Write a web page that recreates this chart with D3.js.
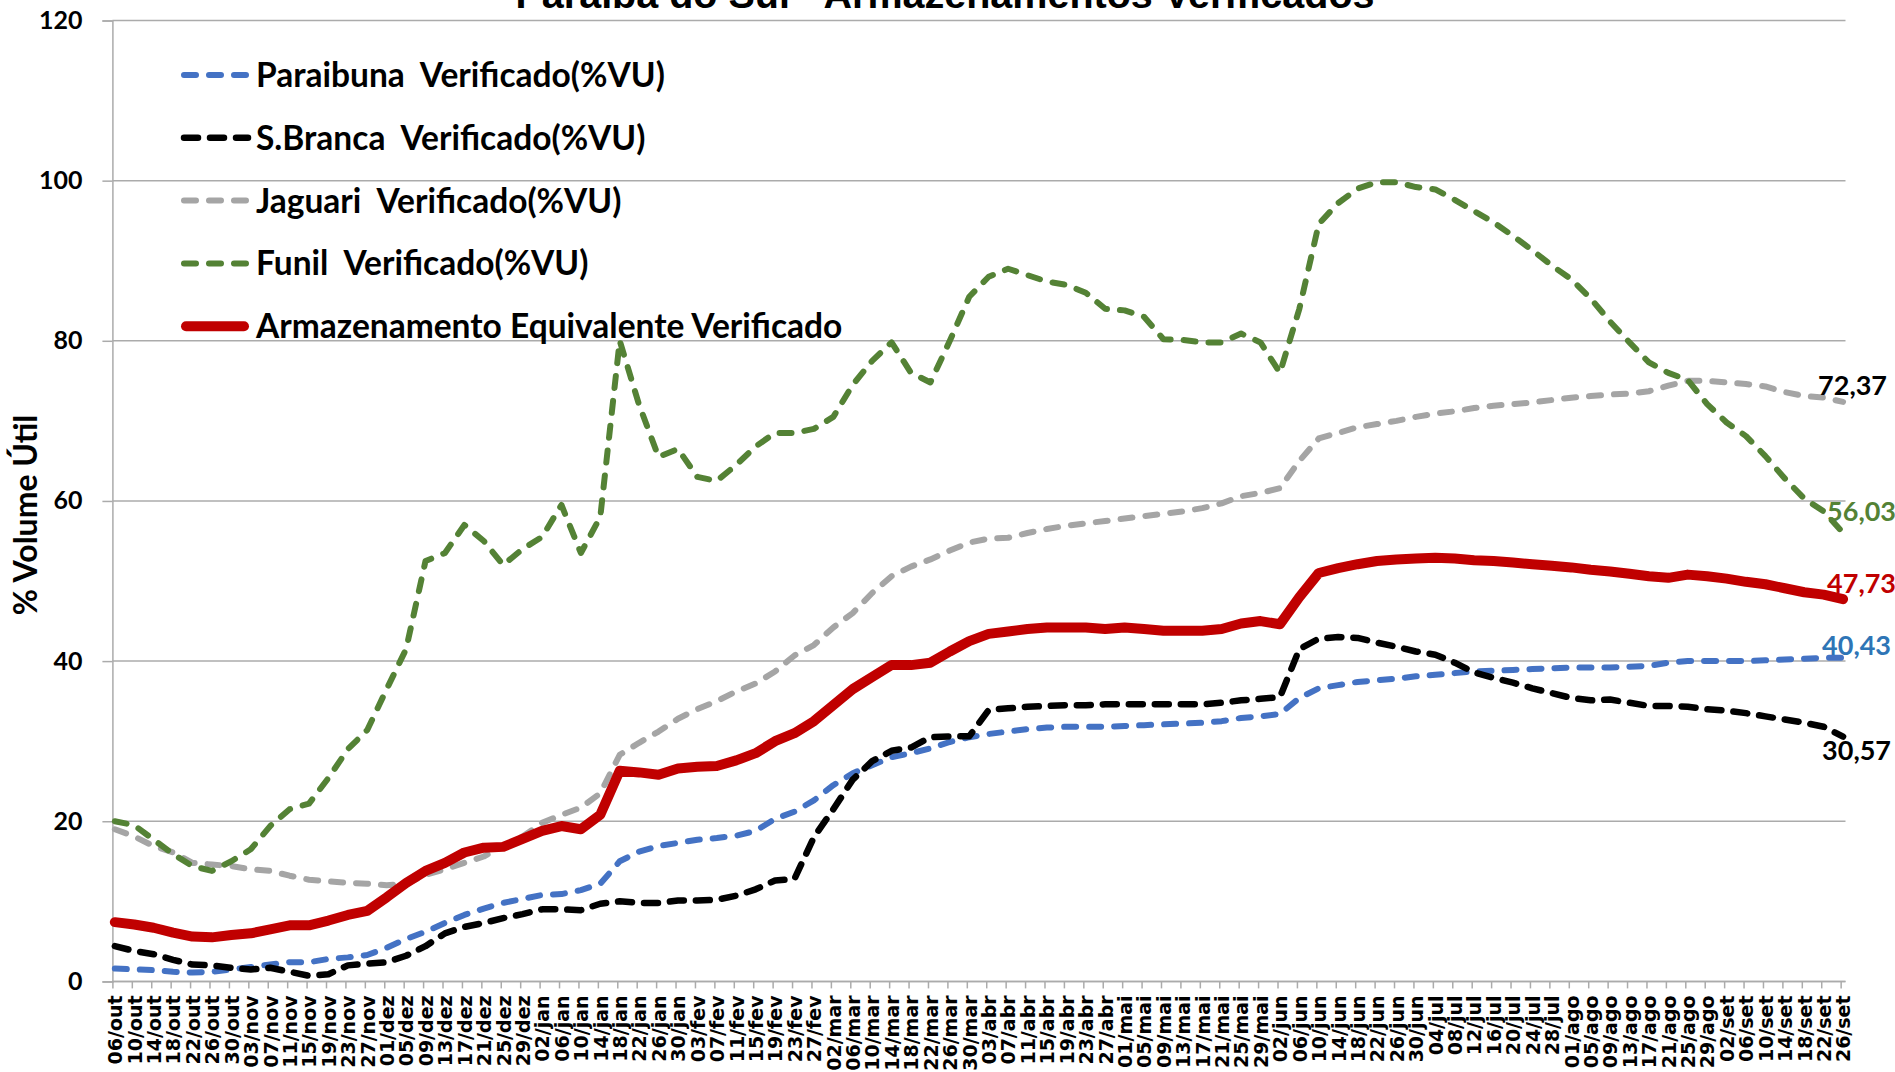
<!DOCTYPE html>
<html>
<head>
<meta charset="utf-8">
<script src="https://cdn.jsdelivr.net/npm/d3@7"></script>
<style>
  body { margin: 0; background: #fff; }
  svg { display: block; }
</style>
</head>
<body>
<div id="chart"></div>
<script>
// datas (a cada 4 dias) usadas como categorias do eixo x
const categories = [
  "06/out","10/out","14/out","18/out","22/out","26/out","30/out",
  "03/nov","07/nov","11/nov","15/nov","19/nov","23/nov","27/nov",
  "01/dez","05/dez","09/dez","13/dez","17/dez","21/dez","25/dez","29/dez",
  "02/jan","06/jan","10/jan","14/jan","18/jan","22/jan","26/jan","30/jan",
  "03/fev","07/fev","11/fev","15/fev","19/fev","23/fev","27/fev",
  "02/mar","06/mar","10/mar","14/mar","18/mar","22/mar","26/mar","30/mar",
  "03/abr","07/abr","11/abr","15/abr","19/abr","23/abr","27/abr",
  "01/mai","05/mai","09/mai","13/mai","17/mai","21/mai","25/mai","29/mai",
  "02/jun","06/jun","10/jun","14/jun","18/jun","22/jun","26/jun","30/jun",
  "04/jul","08/jul","12/jul","16/jul","20/jul","24/jul","28/jul",
  "01/ago","05/ago","09/ago","13/ago","17/ago","21/ago","25/ago","29/ago",
  "02/set","06/set","10/set","14/set","18/set","22/set","26/set"
];

const paraibuna = [
  1.6, 1.5, 1.4, 1.2, 1.1, 1.2, 1.5, 1.8, 2.1, 2.4, 2.4, 2.8,
  3.0, 3.3, 4.2, 5.3, 6.2, 7.3, 8.3, 9.1, 9.8, 10.3, 10.8,
  10.9, 11.4, 12.2, 15.0, 16.2, 16.9, 17.3, 17.7, 17.9, 18.2, 18.8, 20.3, 21.2, 22.6, 24.5, 26.0, 27.0, 28.0, 28.5, 29.1, 29.9, 30.5, 30.9,
  31.2, 31.5, 31.7, 31.8, 31.8, 31.8, 31.9, 32.0, 32.1, 32.2, 32.3, 32.5, 32.9, 33.1, 33.4, 35.4, 36.6, 37.0, 37.4, 37.6, 37.8, 38.1, 38.3,
  38.5, 38.7, 38.8, 38.9, 39.0, 39.1, 39.2, 39.2, 39.2, 39.3, 39.4, 39.8, 40.0, 40.0, 40.0, 40.0, 40.1, 40.2, 40.3, 40.4, 40.43
];

const sBranca = [
  4.4, 3.8, 3.4, 2.7, 2.1, 2.0, 1.7, 1.5, 1.7, 1.2, 0.7, 0.9,
  2.0, 2.2, 2.4, 3.2, 4.4, 6.0, 6.8, 7.3, 7.9, 8.4, 9.0,
  9.0, 8.9, 9.7, 10.0, 9.8, 9.8, 10.1, 10.1, 10.2, 10.7, 11.5, 12.6, 12.8, 18.0, 21.5, 25.2, 27.5, 28.8, 29.2, 30.5, 30.6, 30.6, 33.9,
  34.1, 34.3, 34.4, 34.5, 34.5, 34.6, 34.6, 34.6, 34.6, 34.6, 34.6, 34.8, 35.1, 35.3, 35.5, 41.5, 42.8, 43.0, 42.9, 42.3, 41.8, 41.2, 40.8,
  39.8, 38.6, 37.9, 37.3, 36.6, 36.0, 35.4, 35.1, 35.2, 34.8, 34.4, 34.4, 34.3, 34.0, 33.8, 33.5, 33.1, 32.7, 32.3, 31.8, 30.57
];

const jaguari = [
  19.0, 18.1, 16.9, 16.1, 14.8, 14.6, 14.4, 14.0, 13.8, 13.2, 12.7, 12.5,
  12.3, 12.2, 12.0, 12.2, 13.3, 14.0, 14.8, 15.6, 16.9, 18.1, 19.8,
  20.8, 21.7, 23.5, 28.3, 29.8, 31.2, 32.8, 34.0, 35.0, 36.2, 37.2, 38.7, 40.7, 42.0, 44.2, 46.0, 48.5, 50.6, 51.8, 52.7, 53.8, 54.8, 55.3,
  55.4, 56.0, 56.5, 56.9, 57.2, 57.5, 57.8, 58.1, 58.4, 58.7, 59.1, 59.7, 60.6, 61.0, 61.6, 65.0, 67.8, 68.5, 69.2, 69.6, 70.0, 70.5, 70.9,
  71.2, 71.6, 71.9, 72.1, 72.3, 72.6, 72.9, 73.1, 73.3, 73.4, 73.7, 74.4, 75.0, 75.0, 74.8, 74.6, 74.3, 73.6, 73.1, 72.9, 72.37
];

const funil = [
  20.0, 19.5, 17.7, 15.9, 14.4, 13.8, 15.0, 16.5, 19.4, 21.5, 22.2, 25.4,
  29.0, 31.4, 36.5, 41.5, 52.5, 53.5, 57.0, 55.0, 52.0, 54.0, 55.5,
  59.5, 53.5, 58.0, 80.0, 72.0, 65.5, 66.5, 63.0, 62.5, 64.5, 66.8, 68.5, 68.5, 69.0, 70.5, 74.5, 77.5, 79.8, 76.0, 74.8, 80.0, 85.5, 88.0,
  89.0, 88.2, 87.4, 87.0, 86.0, 84.0, 83.8, 83.0, 80.2, 80.1, 79.8, 79.8, 80.9, 79.8, 76.0, 84.0, 94.6, 97.2, 99.0, 99.8, 99.8, 99.2, 98.9,
  97.6, 96.2, 94.8, 93.1, 91.3, 89.4, 87.7, 85.3, 82.4, 79.8, 77.3, 76.0, 75.1, 72.1, 69.8, 68.1, 65.6, 62.8, 60.3, 58.7, 56.03
];

const equivalente = [
  7.4, 7.1, 6.7, 6.1, 5.6, 5.5, 5.8, 6.0, 6.5, 7.0, 7.0, 7.6,
  8.3, 8.8, 10.5, 12.3, 13.8, 14.8, 16.1, 16.7, 16.8, 17.8, 18.8,
  19.4, 19.0, 20.8, 26.3, 26.1, 25.8, 26.6, 26.8, 26.9, 27.6, 28.5, 30.0, 31.0, 32.5, 34.5, 36.5, 38.0, 39.5, 39.5, 39.8, 41.2, 42.5, 43.4,
  43.7, 44.0, 44.2, 44.2, 44.2, 44.0, 44.2, 44.0, 43.8, 43.8, 43.8, 44.0, 44.7, 45.0, 44.6, 48.0, 51.0, 51.6, 52.1, 52.5, 52.7, 52.8, 52.9,
  52.8, 52.6, 52.5, 52.3, 52.1, 51.9, 51.7, 51.4, 51.2, 50.9, 50.6, 50.4, 50.8, 50.6, 50.3, 49.9, 49.6, 49.1, 48.6, 48.3, 47.73
];

const yTicks = [0, 20, 40, 60, 80, 100, 120];

const series = [
  { name: "Paraibuna  Verificado(%VU)", values: paraibuna, color: "#4472C4", width: 6, dash: "12 13", label: "#2E75B6", ldx: -21, ldy: -12 },
  { name: "S.Branca  Verificado(%VU)", values: sBranca, color: "#000000", width: 6.5, dash: "14 12", label: "#000000", ldx: -21, ldy: 14 },
  { name: "Jaguari  Verificado(%VU)", values: jaguari, color: "#A5A5A5", width: 6, dash: "12 13", label: "#000000", ldx: -25, ldy: -17 },
  { name: "Funil  Verificado(%VU)", values: funil, color: "#548235", width: 6, dash: "12 13", label: "#548235", ldx: -16, ldy: -21 },
  { name: "Armazenamento Equivalente Verificado", values: equivalente, color: "#C00000", width: 10, dash: null, label: "#C00000", ldx: -16, ldy: -16 }
];

const width = 1895;
const height = 1072;
const plot = { left: 112.4, right: 1845.5, top: 20.5, bottom: 981.4 };

const svg = d3.select("#chart").append("svg")
  .attr("width", width)
  .attr("height", height);

// metade de um dia de folga em cada ponta (eixo "entre marcas")
const half = (plot.right - plot.left) / 357 / 2;
const x = d3.scalePoint()
  .domain(categories)
  .range([plot.left + half, plot.right - half]);

const y = d3.scaleLinear()
  .domain([0, 120])
  .range([plot.bottom, plot.top]);

// grade horizontal
svg.append("g")
  .selectAll("line")
  .data(yTicks)
  .join("line")
  .attr("x1", plot.left)
  .attr("x2", plot.right)
  .attr("y1", d => y(d))
  .attr("y2", d => y(d))
  .attr("stroke", "#ababab")
  .attr("stroke-width", 1.5);

// eixo y
const yAxis = svg.append("g")
  .attr("transform", `translate(${plot.left},0)`)
  .call(d3.axisLeft(y).tickValues(yTicks).tickSize(10).tickPadding(20));
yAxis.select(".domain").attr("stroke", "#ababab").attr("stroke-width", 1.5);
yAxis.selectAll(".tick line").attr("stroke", "#ababab").attr("stroke-width", 1.5);
yAxis.selectAll(".tick text")
  .attr("font-family", "Lato, 'Open Sans', sans-serif")
  .attr("font-weight", "bold")
  .attr("font-size", 25)
  .attr("fill", "#000");

// eixo x
const xAxis = svg.append("g")
  .attr("transform", `translate(0,${plot.bottom})`)
  .call(d3.axisBottom(x).tickSize(7).tickPadding(0));
xAxis.select(".domain").remove();
xAxis.selectAll(".tick line")
  .attr("stroke", "#ababab")
  .attr("stroke-width", 1.5)
  .attr("transform", `translate(${-half},0)`);
xAxis.selectAll(".tick text")
  .attr("font-family", "'DejaVu Sans', Verdana, sans-serif")
  .attr("font-weight", "bold")
  .attr("font-size", 19)
  .attr("fill", "#000")
  .attr("text-anchor", "end")
  .attr("transform", "translate(0,14) rotate(-90)")
  .attr("x", 0)
  .attr("y", 0)
  .attr("dy", "0.36em");
svg.append("line")
  .attr("x1", plot.left)
  .attr("x2", plot.right)
  .attr("y1", plot.bottom)
  .attr("y2", plot.bottom)
  .attr("stroke", "#ababab")
  .attr("stroke-width", 1.5);

// linhas
const line = d3.line()
  .x((d, i) => x(categories[i]))
  .y(d => y(d));

svg.append("g")
  .selectAll("path")
  .data(series)
  .join("path")
  .attr("d", d => line(d.values))
  .attr("fill", "none")
  .attr("stroke", d => d.color)
  .attr("stroke-width", d => d.width)
  .attr("stroke-dasharray", d => d.dash)
  .attr("stroke-linecap", "round")
  .attr("stroke-linejoin", "round");

// rótulos do último valor
const last = categories.length - 1;
svg.append("g")
  .selectAll("text")
  .data(series)
  .join("text")
  .attr("x", d => x(categories[last]) + d.ldx)
  .attr("y", d => y(d.values[last]) + d.ldy)
  .attr("dy", "0.36em")
  .attr("font-family", "Lato, 'Open Sans', sans-serif")
  .attr("font-weight", "bold")
  .attr("font-size", 27)
  .attr("fill", d => d.label)
  .text(d => d3.format(".2f")(d.values[last]).replace(".", ","));

// título do eixo y
svg.append("text")
  .attr("transform", `translate(37,${(plot.top + plot.bottom) / 2 + 14}) rotate(-90)`)
  .attr("text-anchor", "middle")
  .attr("font-family", "Lato, 'Open Sans', sans-serif")
  .attr("font-weight", "bold")
  .attr("font-size", 32)
  .text("% Volume Útil");

// título (cortado no topo, como no original)
svg.append("text")
  .attr("x", 945)
  .attr("y", 8)
  .attr("text-anchor", "middle")
  .attr("font-family", "'Liberation Sans', Arial, sans-serif")
  .attr("font-weight", "bold")
  .attr("font-size", 39.5)
  .text("Paraíba do Sul - Armazenamentos Verificados");

// legenda
const legend = svg.append("g")
  .selectAll("g")
  .data(series)
  .join("g")
  .attr("transform", (d, i) => `translate(181,${75 + i * 62.8})`);

legend.append("line")
  .attr("x1", d => d.dash ? 3 : 5)
  .attr("x2", d => d.dash ? 67 : 63)
  .attr("stroke", d => d.color)
  .attr("stroke-width", d => d.width)
  .attr("stroke-dasharray", d => d.dash)
  .attr("stroke-linecap", "round");

legend.append("text")
  .attr("x", 75)
  .attr("dy", "0.36em")
  .attr("font-family", "Lato, 'Open Sans', sans-serif")
  .attr("font-weight", "bold")
  .attr("font-size", 33.5)
  .style("white-space", "pre")
  .text(d => d.name);
</script>
</body>
</html>
